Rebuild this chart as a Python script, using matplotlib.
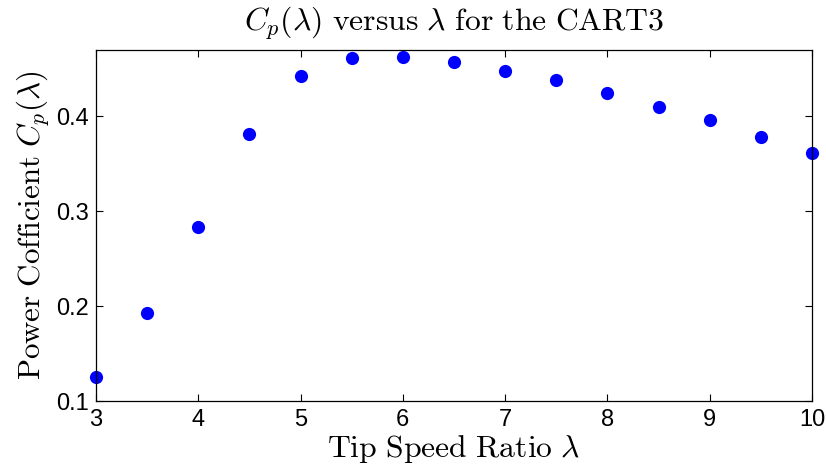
import matplotlib
matplotlib.use('Agg')
import matplotlib.pyplot as plt

# Tip speed ratio and power coefficient values
tsr = [3.0, 3.5, 4.0, 4.5, 5.0, 5.5, 6.0, 6.5, 7.0, 7.5, 8.0, 8.5, 9.0, 9.5, 10.0]
cp = [0.1255, 0.1925, 0.283, 0.381, 0.4426, 0.4613, 0.4623, 0.457,
      0.4476, 0.438, 0.4244, 0.4104, 0.3957, 0.3788, 0.3613]

x_ticks = [3, 4, 5, 6, 7, 8, 9, 10]
y_ticks = [0.1, 0.2, 0.3, 0.4]

plt.rcParams['mathtext.fontset'] = 'cm'
plt.rcParams['font.family'] = ['Liberation Sans', 'DejaVu Sans']

fig = plt.figure(figsize=(8.26, 4.72), dpi=100)
ax = fig.add_axes([96 / 826, 71 / 472, 716 / 826, 351 / 472])

ax.plot(tsr, cp, linestyle='none', marker='o', markersize=9.5,
        color='#0000ff', markeredgewidth=0, clip_on=False)

ax.set_xlim(3, 10)
ax.set_ylim(0.1, 0.47)
ax.set_xticks(x_ticks)
ax.set_yticks(y_ticks)
ax.set_xticklabels([str(t) for t in x_ticks])
ax.set_yticklabels([f'{t:.1f}' for t in y_ticks])

ax.tick_params(direction='in', length=5, width=0.8, labelsize=17,
               top=True, right=True, pad=6)
ax.tick_params(axis='y', pad=5)
for s in ax.spines.values():
    s.set_linewidth(0.9)

ax.set_title(r'$C_p(\lambda)\ \mathrm{versus}\ \lambda\ \mathrm{for\ the\ CART3}$',
             fontsize=22.8, pad=14)
ax.set_xlabel(r'$\mathrm{Tip\ Speed\ Ratio}\ \lambda$', fontsize=22.8, labelpad=1)
ax.set_ylabel(r'$\mathrm{Power\ Cofficient}\ C_p(\lambda)$', fontsize=22.3, labelpad=3)

plt.savefig('out.png', dpi=100)
